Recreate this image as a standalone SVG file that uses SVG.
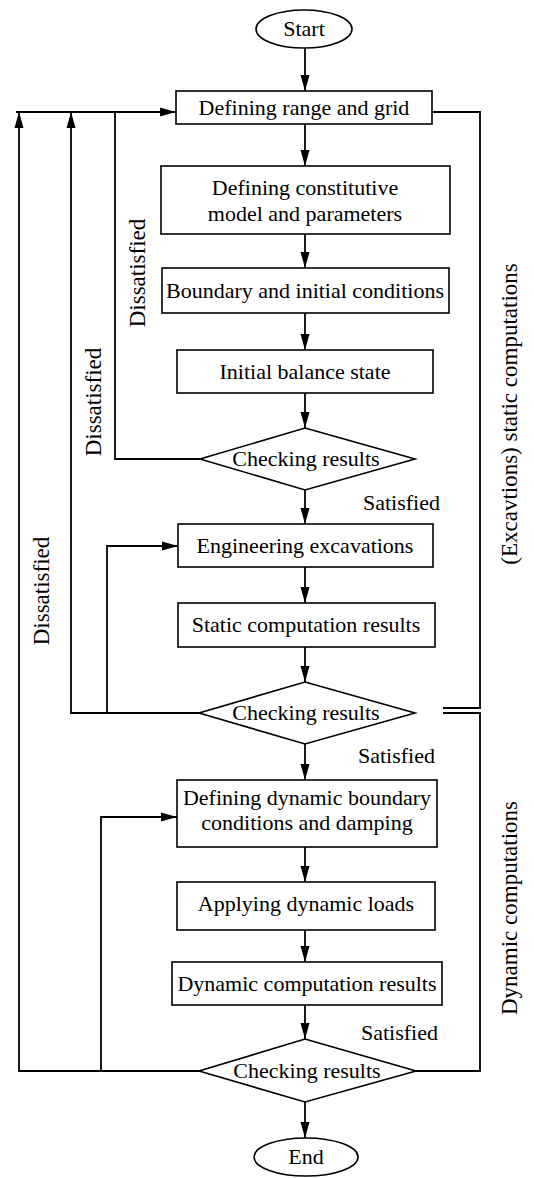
<svg xmlns="http://www.w3.org/2000/svg" width="534" height="1178" viewBox="0 0 534 1178">
<style>
.shape{fill:#fff;stroke:#000;stroke-width:1.6}
.line{fill:none;stroke:#000;stroke-width:1.8}
text{font-family:'Liberation Serif','Times New Roman',Times,'DejaVu Serif','Noto Serif',serif;fill:#000}
.t{font-size:22px;text-anchor:middle}
.v{font-size:23px;text-anchor:middle}
.s{font-size:22px;text-anchor:end}
</style>
<defs>
<marker id="arr" markerUnits="userSpaceOnUse" markerWidth="16" markerHeight="10" viewBox="0 0 16 10" refX="16" refY="5" orient="auto">
<path d="M0,0.5 L16,5 L0,9.5 z" fill="#000"/>
</marker>
</defs>
<rect width="534" height="1178" fill="#fff"/>
<g id="connectors">
<line class="line" x1="305" y1="48" x2="305" y2="91" marker-end="url(#arr)"/>
<line class="line" x1="305" y1="124" x2="305" y2="166" marker-end="url(#arr)"/>
<line class="line" x1="305" y1="234" x2="305" y2="268" marker-end="url(#arr)"/>
<line class="line" x1="305" y1="313" x2="305" y2="350" marker-end="url(#arr)"/>
<line class="line" x1="305" y1="393" x2="305" y2="428" marker-end="url(#arr)"/>
<line class="line" x1="305" y1="490" x2="305" y2="524" marker-end="url(#arr)"/>
<line class="line" x1="305" y1="567" x2="305" y2="603" marker-end="url(#arr)"/>
<line class="line" x1="305" y1="647" x2="305" y2="682" marker-end="url(#arr)"/>
<line class="line" x1="305" y1="744" x2="305" y2="780" marker-end="url(#arr)"/>
<line class="line" x1="305" y1="847" x2="305" y2="882" marker-end="url(#arr)"/>
<line class="line" x1="305" y1="930" x2="305" y2="962" marker-end="url(#arr)"/>
<line class="line" x1="305" y1="1005" x2="305" y2="1039" marker-end="url(#arr)"/>
<line class="line" x1="305" y1="1102" x2="305" y2="1138" marker-end="url(#arr)"/>
<line class="line" x1="16" y1="112" x2="176" y2="112" marker-end="url(#arr)"/>
<polyline class="line" points="200,459 115,459 115,112"/>
<polyline class="line" points="199,713 71,713 71,112" marker-end="url(#arr)"/>
<polyline class="line" points="107,713 107,546 178,546" marker-end="url(#arr)"/>
<polyline class="line" points="199,1071 19,1071 19,112" marker-end="url(#arr)"/>
<polyline class="line" points="101,1071 101,817 177,817" marker-end="url(#arr)"/>
<polyline class="line" points="432,112 480,112 480,708 443,708"/>
<polyline class="line" points="443,713 480,713 480,1071 416,1071"/>
<text class="v" transform="translate(145,273) rotate(-90)">Dissatisfied</text>
<text class="v" transform="translate(101,402) rotate(-90)">Dissatisfied</text>
<text class="v" transform="translate(49,591) rotate(-90)">Dissatisfied</text>
<text class="s" x="440" y="510">Satisfied</text>
<text class="s" x="435" y="763">Satisfied</text>
<text class="s" x="438" y="1040">Satisfied</text>
<text class="v" transform="translate(517,414) rotate(-90)">(Excavtions) static computations</text>
<text class="v" transform="translate(517,908) rotate(-90)">Dynamic computations</text>
</g>
<g id="start"><ellipse class="shape" cx="304" cy="29" rx="48" ry="19"/><text class="t" x="304" y="36">Start</text></g>
<g id="range"><rect class="shape" x="176" y="91" width="256" height="33"/><text class="t" x="304" y="115">Defining range and grid</text></g>
<g id="model"><rect class="shape" x="161" y="166" width="289" height="68"/><text class="t" x="305" y="195">Defining constitutive</text><text class="t" x="305" y="221">model and parameters</text></g>
<g id="boundary"><rect class="shape" x="162" y="268" width="287" height="45"/><text class="t" x="305" y="298">Boundary and initial conditions</text></g>
<g id="balance"><rect class="shape" x="177" y="350" width="256" height="43"/><text class="t" x="305" y="379">Initial balance state</text></g>
<g id="check1"><polygon class="shape" points="305,428 415,459 305,490 200,459"/><text class="t" x="306" y="466">Checking results</text></g>
<g id="excavation"><rect class="shape" x="178" y="524" width="255" height="43"/><text class="t" x="305" y="553">Engineering excavations</text></g>
<g id="static"><rect class="shape" x="178" y="603" width="257" height="44"/><text class="t" x="306" y="632">Static computation results</text></g>
<g id="check2"><polygon class="shape" points="305,682 415,713 305,744 199,713"/><text class="t" x="306" y="720">Checking results</text></g>
<g id="dynboundary"><rect class="shape" x="177" y="780" width="260" height="67"/><text class="t" x="307" y="805">Defining dynamic boundary</text><text class="t" x="307" y="830">conditions and damping</text></g>
<g id="loads"><rect class="shape" x="177" y="882" width="258" height="48"/><text class="t" x="306" y="911">Applying dynamic loads</text></g>
<g id="dynresults"><rect class="shape" x="172" y="962" width="270" height="43"/><text class="t" x="307" y="991">Dynamic computation results</text></g>
<g id="check3"><polygon class="shape" points="305,1039 416,1071 305,1102 199,1071"/><text class="t" x="307" y="1078">Checking results</text></g>
<g id="end"><ellipse class="shape" cx="306" cy="1157" rx="52" ry="19"/><text class="t" x="306" y="1164">End</text></g>
</svg>
